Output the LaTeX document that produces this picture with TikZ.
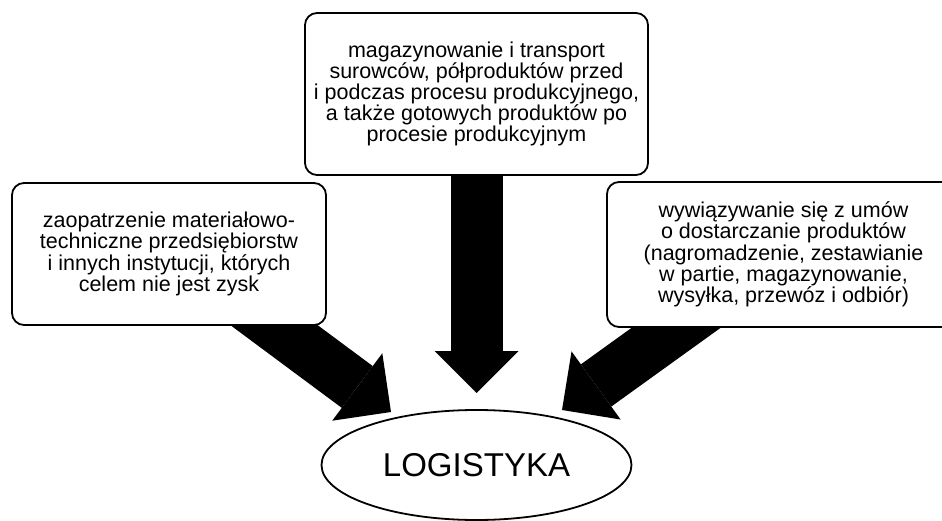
\documentclass[tikz,border=0pt]{standalone}
\usepackage{fontspec}
\setmainfont{Liberation Sans}
\usetikzlibrary{arrows.meta}
\usetikzlibrary{shapes.geometric}
\usetikzlibrary{calc}
\usetikzlibrary{backgrounds}

\begin{document}
\begin{tikzpicture}[x=1pt,y=-1pt,
  infobox/.style={draw,line width=1.8pt,rounded corners=12pt,fill=white,align=center,
    font=\fontsize{21.5}{21.2}\selectfont,inner sep=0pt},
  fatarrow/.style={line width=52pt,-{Triangle[length=42pt,width=84pt,line width=0pt]}}]
\useasboundingbox (0,0) rectangle (942,521);
\node[infobox,minimum width=343pt,minimum height=162pt] (prod) at (476.5,94)
  {magazynowanie i transport\\surowców, półproduktów przed\\i podczas procesu produkcyjnego,\\a także gotowych produktów po\\procesie produkcyjnym};
\node[infobox,minimum width=314pt,minimum height=142pt] (zaop) at (169,254)
  {zaopatrzenie materiałowo-\\techniczne przedsiębiorstw\\i innych instytucji, których\\celem nie jest zysk};
\node[infobox,minimum width=353pt,minimum height=145pt] (dyst) at (783.5,254.5)
  {wywiązywanie się z umów\\o dostarczanie produktów\\(nagromadzenie, zestawianie\\w partie, magazynowanie,\\wysyłka, przewóz i odbiór)};
\node[draw,ellipse,line width=1.8pt,minimum width=310pt,minimum height=110pt,
  font=\fontsize{33}{33}\selectfont] (log) at (476.5,465) {LOGISTYKA};
% end points of the arrows
\coordinate (sZ) at ([xshift=106pt]zaop.south);
\coordinate (sD) at ([xshift=-107.5pt]dyst.south);
\coordinate (tZ) at (391,412);
\coordinate (tP) at (476.5,393);
\coordinate (tD) at (562,410);
\begin{scope}[on background layer]
\draw[fatarrow] ($(sZ)!-0.4!(tZ)$) -- (tZ);
\draw[fatarrow] ([yshift=20pt]prod.south) -- (tP);
\draw[fatarrow] ($(sD)!-0.4!(tD)$) -- (tD);
\end{scope}
\end{tikzpicture}
\end{document}
